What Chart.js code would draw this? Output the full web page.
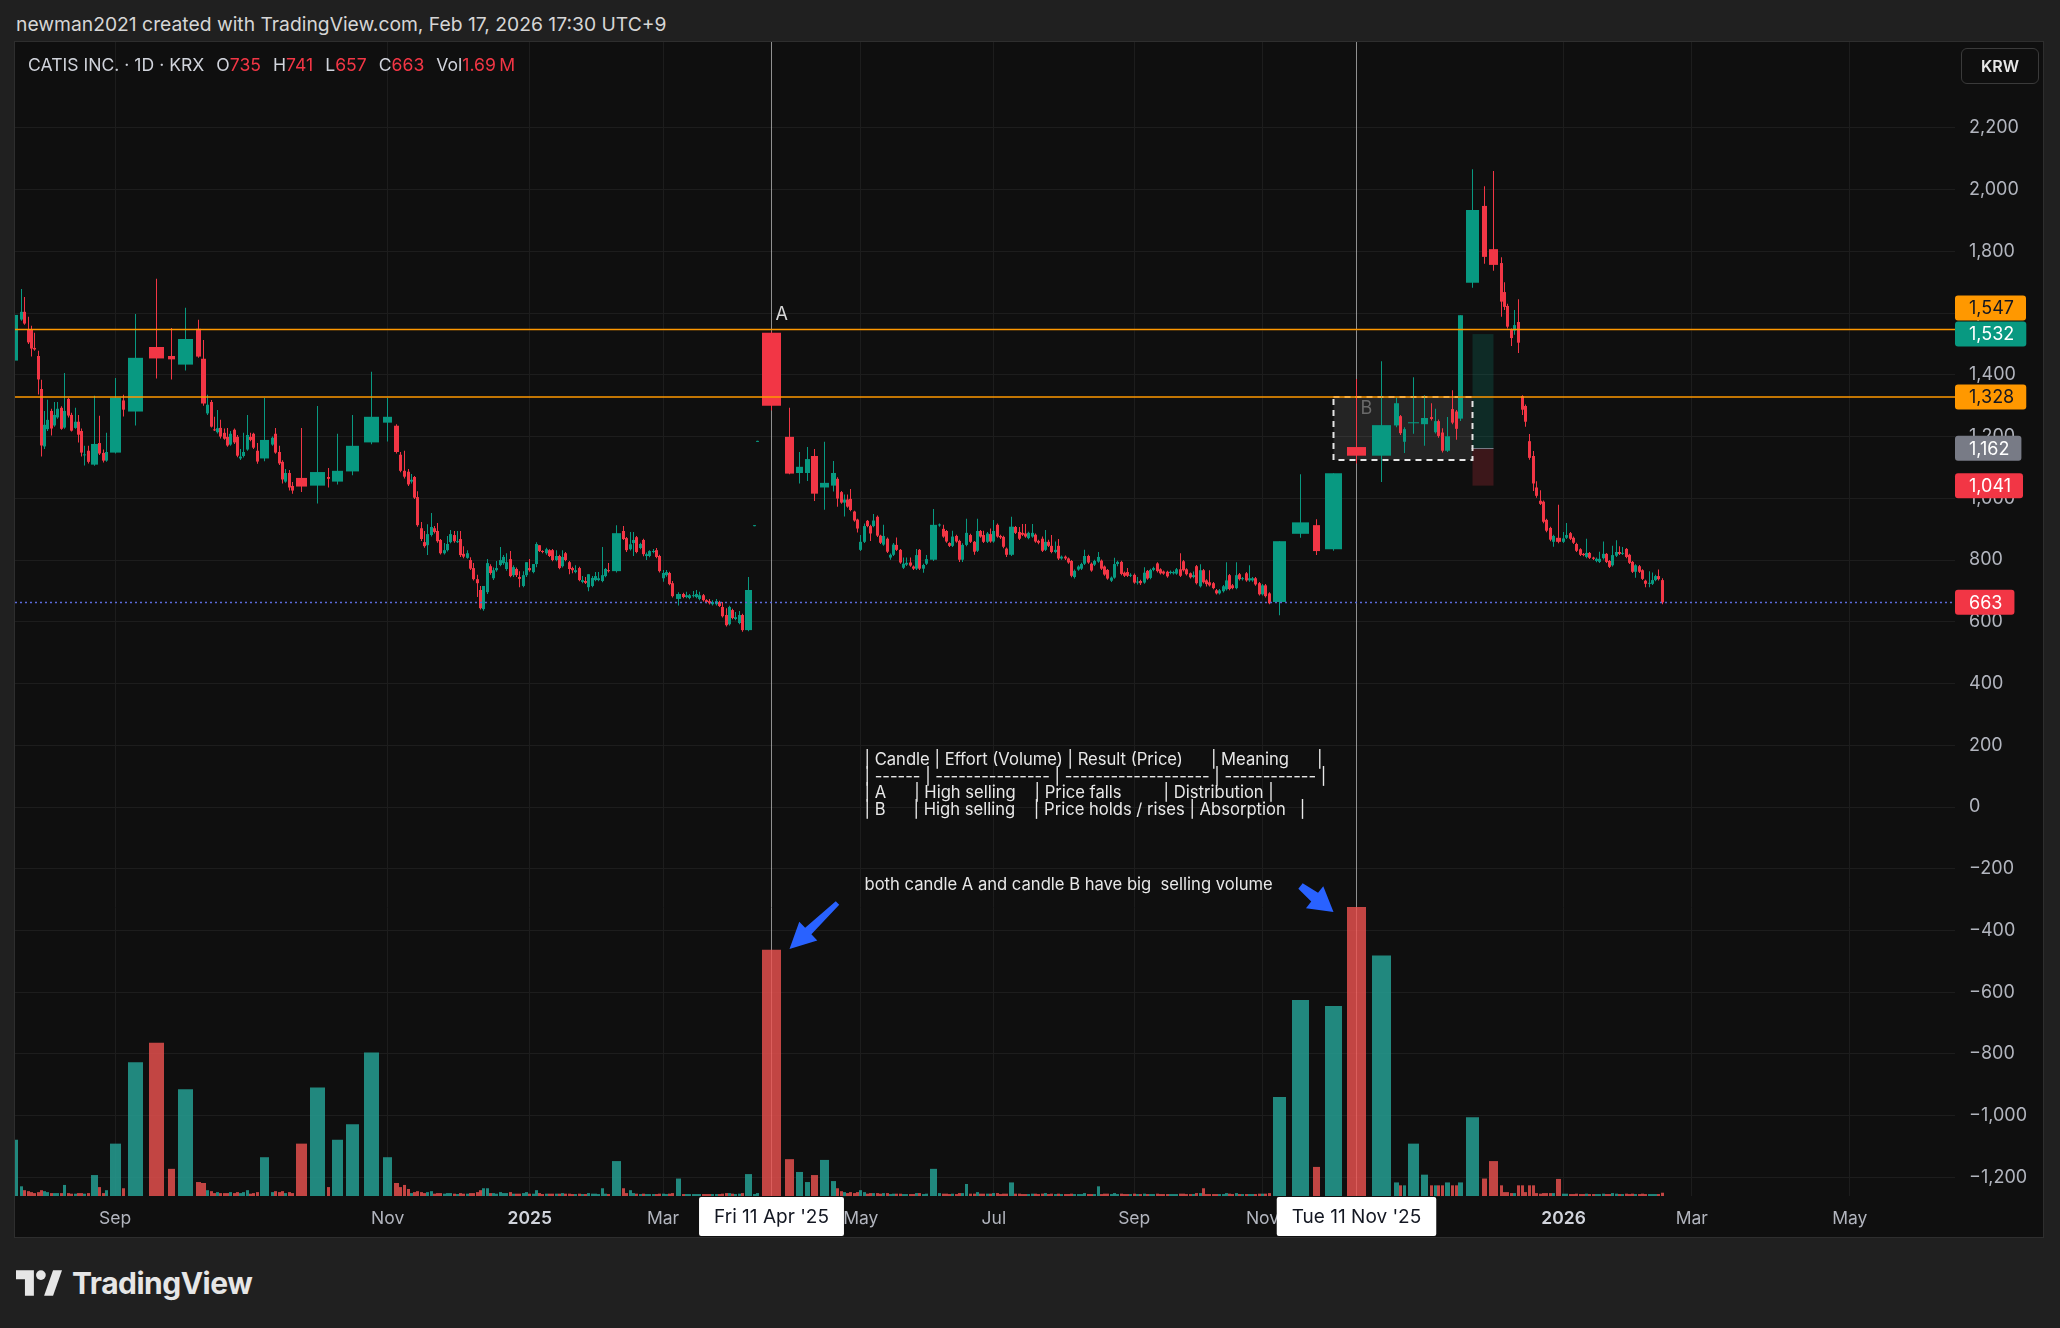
<!DOCTYPE html>
<html lang="en">
<head>
<meta charset="utf-8">
<title>CATIS INC. · 1D · KRX</title>
<script src="https://cdn.jsdelivr.net/npm/chart.js@4.4.1/dist/chart.umd.min.js"></script>
<style>
  html, body { margin: 0; padding: 0; background: #202020; }
  body { width: 2060px; height: 1328px; position: relative; overflow: hidden;
         font-family: Inter, Roboto, "Noto Sans", sans-serif; }
  #header { position: absolute; left: 16px; top: 12px; font-size: 19.3px; color: #d6d6d6; }
  #panel { position: absolute; left: 14px; top: 41px; width: 2028px; height: 1195px;
           border: 1px solid #2e2e2e; background: #0f0f0f; }
  #chart { position: absolute; left: 0; top: 0; }
  #legend { position: absolute; left: 13px; top: 12px; font-size: 17.6px; color: #d1d4dc; white-space: nowrap; }
  #legend span { margin-left: 12px; }
  #legend span:first-child { margin-left: 0; }
  #legend b { font-weight: normal; color: #f23645; }
  #krw { position: absolute; left: 1946px; top: 6px; width: 78px; height: 36px; box-sizing: border-box;
         border: 1px solid #3a3a3a; border-radius: 6px; color: #e8e8e8; font-size: 16px; font-weight: 600;
         line-height: 34px; text-align: center; }
  #logo { position: absolute; left: 16px; top: 1268px; height: 30px; display: flex; align-items: center; gap: 10px;
          color: #e6e6e6; font-size: 30px; font-weight: 700; letter-spacing: -0.5px; }
</style>
</head>
<body>
<div id="header">newman2021 created with TradingView.com, Feb 17, 2026 17:30 UTC+9</div>
<div id="panel">
  <canvas id="chart" width="2028" height="1195"></canvas>
  <div id="legend"></div>
  <div id="krw">KRW</div>
</div>
<div id="logo">
  <svg width="46" height="26" viewBox="0 0 36 20" fill="#e6e6e6">
    <path d="M0 0h14v20H7V7H0z"/><circle cx="19.5" cy="3.8" r="3.8"/><path d="M22 20L29 0h7l-7 20z"/>
  </svg>TradingView
</div>

<script>
// daily candles, KRX:CATIS, oldest first (volume in millions of shares)
const opens = [1446,1579,1604,1548,1548,1487,1461,1354,1168,1224,
  1283,1236,1262,1293,1229,1322,1270,1228,1248,1218,
  1139,1154,1109,1179,1147,1122,1148,1317,1281,1490,
  1461,1433,1549,1452,1275,1312,1222,1214,1228,1212,
  1199,1174,1222,1199,1129,1137,1158,1199,1209,1154,
  1129,1174,1209,1150,1118,1054,1082,1040,1066,1041,
  1069,1054,1087,1181,1245,1235,1141,1089,1086,1054,
  1069,1004,903,858,848,881,903,894,865,822,
  832,858,881,858,868,820,807,800,774,738,
  703,641,696,780,741,767,784,790,771,803,
  751,771,745,716,751,774,761,787,848,829,
  822,832,832,800,813,780,822,793,774,761,
  774,729,732,712,716,735,735,732,748,767,
  764,894,871,835,855,874,839,865,813,813,
  826,832,813,741,751,758,725,674,690,680,
  677,683,680,674,686,670,667,657,657,664,
  648,622,592,638,609,596,622,573,913,1186,
  1536,1199,1082,1082,1137,1035,1041,1063,1020,986,
  996,998,957,931,833,859,927,910,910,940,
  879,850,869,808,817,849,833,775,785,792,
  779,772,833,772,788,801,912,901,894,855,
  846,878,862,801,849,881,859,830,894,881,
  859,884,860,914,878,875,837,817,907,891,
  888,886,871,876,882,862,869,833,859,846,826,
  846,805,811,805,797,745,769,772,788,813,788,
  785,795,798,779,768,733,743,787,794,759,761,749,
  752,727,732,727,765,742,768,789,770,763,
  762,758,757,756,770,796,770,757,745,780,
  715,767,734,728,725,702,692,699,705,751,
  718,709,754,738,757,734,734,741,725,689,
  718,692,664,885,913,835,1166,1138,1236,1266,
  1183,1243,1240,1263,1214,1250,1213,1154,1289,1281,
  1258,1698,1947,1807,1762,1668,1623,1545,1543,1571,
  1331,1299,1185,1137,1035,992,989,930,904,859,
  872,859,872,887,872,852,835,820,810,823,
  808,797,794,806,820,797,783,814,826,820,
  836,817,794,762,780,767,733,723,723,735,748,735];

const highs = [1600,1678,1652,1588,1559,1536,1478,1384,1283,1319,
  1290,1312,1312,1298,1406,1326,1277,1293,1270,1226,
  1170,1170,1332,1267,1158,1212,1390,1335,1597,1711,
  1552,1617,1578,1513,1335,1318,1264,1286,1254,1226,
  1228,1218,1226,1205,1160,1212,1270,1212,1212,1179,
  1325,1200,1228,1170,1123,1095,1092,1053,1228,1299,
  1098,1209,1270,1410,1325,1240,1150,1154,1095,1079,
  1072,1023,923,894,916,952,910,920,868,855,
  878,897,894,894,894,845,832,809,790,752,
  716,716,803,786,776,797,842,816,822,829,
  783,776,764,764,793,803,787,858,848,832,
  840,835,836,832,817,832,826,797,778,783,
  778,748,745,754,748,761,761,842,774,790,
  913,910,875,891,891,878,856,869,824,832,
  836,839,817,768,768,762,732,696,694,697,
  690,700,703,697,690,673,674,670,674,668,
  664,644,652,642,632,635,626,745,913,1186,
  1540,1293,1150,1166,1160,1183,1121,1068,1024,1012,
  1012,1030,960,934,881,918,930,914,949,944,
  882,914,873,821,855,873,836,808,808,808,
  782,836,836,788,816,965,918,914,897,858,
  895,882,866,854,934,885,862,934,897,895,
  891,902,930,918,882,879,841,940,910,907,
  917,917,892,917,886,866,876,897,866,881,860,
  868,815,815,808,800,769,783,791,833,817,792,
  801,826,802,782,771,747,807,798,798,763,774,757,
  756,745,736,777,768,772,778,793,773,766,
  765,766,765,774,822,800,773,760,763,784,
  786,771,738,767,729,706,706,719,793,755,
  722,793,758,745,761,783,745,745,729,722,
  722,696,861,1078,932,1081,1386,1444,1326,1270,
  1230,1392,1334,1308,1290,1255,1227,1263,1350,1286,
  1593,2066,2011,2060,1781,1700,1630,1550,1610,1645,
  1334,1304,1208,1153,1055,1026,993,934,908,882,
  979,891,920,891,876,856,838,823,869,826,
  811,808,827,860,823,800,846,864,845,842,
  839,820,797,786,784,770,736,764,760,752,769,741];

const lows = [1440,1575,1562,1500,1459,1478,1336,1135,1160,1218,
  1203,1232,1258,1222,1225,1262,1216,1225,1181,1135,
  1106,1113,1105,1140,1116,1118,1145,1265,1236,1388,
  1385,1414,1455,1300,1270,1229,1218,1210,1194,1190,
  1167,1170,1176,1133,1124,1132,1154,1185,1160,1112,
  1120,1170,1144,1108,1048,1050,1025,1015,1020,983,
  1035,1045,1075,1175,1184,1145,1084,1064,1040,1048,
  998,908,862,840,816,876,886,856,818,818,
  828,854,856,855,810,806,804,768,734,680,
  640,636,690,752,735,762,780,785,765,744,
  745,745,712,712,745,762,757,777,826,822,
  817,810,796,796,770,776,796,754,757,757,
  731,725,722,699,712,731,731,728,744,760,
  760,865,826,831,813,822,835,812,800,809,
  822,806,760,730,746,718,679,653,676,676,
  673,679,676,670,666,660,656,653,653,648,
  614,585,588,608,605,592,568,569,913,1186,
  1284,1078,1048,1056,991,963,1022,973,982,941,
  969,958,924,889,829,855,906,862,906,875,
  852,846,823,801,813,829,788,771,781,778,
  768,768,768,759,784,797,908,872,856,842,
  842,856,794,794,845,855,817,826,872,855,
  855,856,856,872,868,838,810,813,884,865,
  878,872,867,872,856,851,826,829,842,822,822,
  800,801,800,788,744,740,765,768,784,788,762,
  781,791,768,749,736,729,739,780,751,745,745,745,
  723,721,719,723,736,738,764,760,753,752,
  743,754,753,752,745,763,750,740,741,721,
  711,724,714,714,705,688,688,695,701,702,
  705,705,734,734,730,730,730,717,685,685,
  679,657,621,872,816,830,1113,1053,1230,1205,
  1147,1209,1170,1252,1210,1196,1148,1150,1240,1190,
  1250,1682,1760,1737,1588,1610,1550,1493,1530,1471,
  1270,1232,1125,1024,1002,978,919,890,861,843,
  854,855,868,865,852,826,813,812,806,803,
  800,793,790,802,790,774,779,810,816,816,
  806,787,758,743,758,735,712,712,719,731,734,657];

const closes = [1594,1604,1566,1505,1485,1482,1385,1171,1238,1254,
  1226,1270,1290,1225,1283,1268,1219,1248,1206,1148,
  1142,1118,1176,1145,1122,1150,1326,1287,1455,1453,
  1450,1516,1459,1307,1303,1232,1220,1227,1200,1193,
  1171,1209,1181,1138,1135,1150,1205,1189,1164,1119,
  1189,1196,1148,1113,1061,1082,1035,1025,1038,1085,
  1063,1089,1170,1264,1264,1150,1089,1070,1045,1060,
  1002,913,868,845,884,907,891,861,822,832,
  852,884,861,861,816,811,822,772,738,725,
  644,716,790,758,767,774,800,810,793,748,
  777,751,739,751,793,767,787,852,829,826,
  835,813,800,813,774,810,800,771,767,767,
  735,735,726,754,742,748,741,751,771,764,
  887,868,832,851,865,826,852,819,819,829,
  829,810,764,758,761,722,683,690,680,686,
  686,686,690,686,670,664,660,664,667,651,
  618,589,648,612,615,622,573,703,913,1186,
  1300,1080,1102,1127,1015,1050,1082,999,986,996,
  973,962,928,902,859,910,910,886,928,879,
  856,878,827,817,850,833,792,788,791,782,
  772,816,772,784,803,914,914,876,860,846,
  876,860,801,849,888,859,827,894,876,859,
  886,860,894,876,873,843,817,908,888,869,
  882,876,888,888,860,856,830,859,846,826,833,
  805,811,805,792,749,765,779,787,813,792,766,
  797,810,772,753,740,743,787,794,755,749,749,752,
  727,730,725,759,740,768,774,764,757,756,
  747,762,761,770,749,767,754,744,751,725,
  767,728,722,718,709,692,702,715,734,706,
  709,751,738,741,734,741,741,721,689,718,
  683,660,861,922,829,1081,1138,1237,1308,1211,
  1224,1244,1260,1257,1250,1202,1154,1201,1245,1225,
  1593,1934,1782,1756,1637,1620,1556,1519,1561,1504,
  1287,1248,1131,1048,1008,982,924,895,866,878,
  859,870,881,869,856,830,817,816,823,807,
  804,804,804,820,794,778,816,826,820,823,
  810,791,762,783,762,739,723,726,735,748,738,663];

const volumes = [29,5,3,2.5,2,1.5,2,3,2.5,2,
  1.5,1.5,1.5,1.5,5.7,1.5,1.2,1.2,1.5,1.5,
  1.2,1.5,10.8,4.6,1.5,3,27,4,69,79,
  14,55,7.2,6.7,3,2.5,1.5,2,1.5,1.5,
  1.5,2,1.5,2,1.5,2,3,1.2,1.5,2,
  20,2,2.5,2,2.5,1.5,2,1.5,27,56,
  4.6,29,37,74,20,6.7,4.6,5.7,3.6,1.5,
  2,2.5,2,1.5,2,2.5,1.2,1.5,1.5,1.2,
  1.5,1.5,1.2,1,1.5,1.2,1.2,1.5,1.5,2,
  3,4,4,1.5,1.5,1.2,2,1.5,1.5,2,
  1.2,1.2,1.2,1.5,2,1.2,1.2,3,1.5,1,
  1.2,1.2,1.2,1.2,1.2,1.5,1.2,1.2,1,1,
  1.2,1,1,1.5,1.2,1.2,1,4,1.2,1,
  18,4,1.5,3,1.5,1.2,1,1.2,1,1,
  1,1,1.2,1.2,1,1.2,1.5,9,1,1,
  1,1,1,1,1,1,1,1,1,1,
  1.2,1.5,1.5,1.2,1,1.2,1.5,11.3,1,1.5,
  127,19,12.4,7.2,10.8,18.6,7.7,4,2.5,2,
  1.5,2,1.5,2,3,2,1.2,1.5,1.5,1.5,
  1.2,1.5,1.5,1,1.2,1.2,1.2,1,1,1,
  1,1.5,1.5,1,1.2,14,1.5,1.2,1.2,1,
  1.2,1,1.5,1.5,6.2,1.2,1.2,2,1.2,1.2,
  1.2,1.2,1.5,1.5,1,1.2,1.2,7,1.2,1.2,
  1,1,1,1.2,1.2,1,1.2,1.5,1,1.2,1,
  1.2,1,1,1,1.2,1,1,1,1.5,1,1,
  1,5,1,1.2,1.2,1,1.5,1,1.2,1,1,1,
  1.2,1,1,1.2,1,1,1,1.2,1,1,
  1,1,1,1,1.2,1.2,1,1,1,1.5,
  1.5,4,1,1,1,1,1,1,1.5,1.2,
  1,1.5,1,1,1,1,1,1,1.2,1.2,
  1.2,1.5,51,101,15,98,149,124,7,5.5,
  5.5,27,11,5.5,5.5,5.5,5.5,7,5.5,5.5,
  7,40.6,9,18,5.5,2,2,1.5,1.5,5.5,
  5.5,2,5.5,5.5,1.5,1.2,1.5,1.5,1.5,1.5,
  8.8,1.2,1.2,1,1,1.2,1,1,1.2,1,
  1,1,1,1.2,1,1,1.5,1.2,1,1,
  1.2,1,1.2,1,1,1.2,1,1,1,1,1,1.69];

// time axis: first session of each labelled month, and months past the last bar
const monthNames = ['Sep', 'Nov', '2025', 'Mar', 'May', 'Jul', 'Sep', 'Nov', '2026'];
const monthStart = [26, 64, 105, 143, 184, 222, 264, 303, 345];
const futureNames = ['Mar', 'May'];
const futureBars = [9, 57];

// price axis
const priceTicks = [-1200, -1000, -800, -600, -400, -200, 0, 200, 400, 600, 800, 1000, 1200,
  1400, 1600, 1800, 2000, 2200];

// drawings on the chart
const levelLines = [1547, 1328];
const tagValues = [1547, 1532, 1328, 1162, 1041, 663];
const markedBars = [170, 310];
const markedDates = ["Fri 11 Apr '25", "Tue 11 Nov '25"];
const position = { from: 325, to: 327, target: 1532, entry: 1162, stop: 1041 };
const boxB = { from: 309, to: 325, top: 1328, bottom: 1124 };
const candleLabels = [['A', 170, 1594], ['B', 310, 1292]];
const noteLines = [
  '| Candle | Effort (Volume) | Result (Price)      | Meaning      |',
  '| ------ | --------------- | ------------------- | ------------ |',
  '| A      | High selling    | Price falls         | Distribution |',
  '| B      | High selling    | Price holds / rises | Absorption   |'
];
const noteBar = 185, notePrice = 152;
const note2 = 'both candle A and candle B have big  selling volume', note2Price = -253;
const arrows = [[177, -311, 171, -460], [307, -256, 309, -340]];

const up = '#089981', down = '#f23645';
const tagFill = ['#ff9800', up, '#ff9800', '#787b86', down, down];
const tagInk = ['#131722', '#ffffff', '#131722', '#ffffff', '#ffffff', '#ffffff'];
const gridColor = '#1d1d1d';
const last = closes.length - 1;

// legend
document.getElementById('legend').innerHTML =
  '<span>CATIS INC. · 1D · KRX</span>' +
  `<span>O<b>${opens[last]}</b></span><span>H<b>${highs[last]}</b></span>` +
  `<span>L<b>${lows[last]}</b></span><span>C<b>${closes[last]}</b></span>` +
  `<span>Vol<b>${volumes[last].toFixed(2)}&thinsp;M</b></span>`;

// volume candles: width grows with volume, so x is a running sum of bar slots
function bodyWidth(v) { return Math.max(2.7, 4.8 * Math.log(v) - 5); }
function slotWidth(v) { const b = bodyWidth(v); return b + 0.6 + 0.34 * (b - 2.7); }
function oddPx(w) { return Math.max(1, 2 * Math.round((w - 1) / 2) + 1); }

const centers = [];
volumes.map(slotWidth).reduce((run, s) => { centers.push(run + s / 2); return run + s; }, 0);
const slot = slotWidth(1);
const xMin = centers[1] - 2 * slot;
const xMax = centers[last] + 89 * slot;
const tickValues = monthStart.map(i => centers[i]).concat(futureBars.map(n => centers[last] + n * slot));
const tickNames = monthNames.concat(futureNames);
const isYear = i => /^\d{4}$/.test(tickNames[i] || '');

const fmt = v => (v < 0 ? '\u2212' : '') + Math.abs(v).toLocaleString('en-US');
const isUp = i => closes[i] >= opens[i];

function hline(ctx, x0, x1, y) {
  ctx.beginPath(); ctx.moveTo(x0, y); ctx.lineTo(x1, y); ctx.stroke();
}

function drawArrow(ctx, x0, y0, x1, y1, headLen, headW, neckW, tailW) {
  const len = Math.hypot(x1 - x0, y1 - y0);
  const ux = (x1 - x0) / len, uy = (y1 - y0) / len, nx = -uy, ny = ux;
  const bx = x1 - ux * headLen, by = y1 - uy * headLen;
  ctx.beginPath();
  ctx.moveTo(x0 + nx * tailW / 2, y0 + ny * tailW / 2);
  ctx.lineTo(bx + nx * neckW / 2, by + ny * neckW / 2);
  ctx.lineTo(bx + nx * headW / 2, by + ny * headW / 2);
  ctx.lineTo(x1, y1);
  ctx.lineTo(bx - nx * headW / 2, by - ny * headW / 2);
  ctx.lineTo(bx - nx * neckW / 2, by - ny * neckW / 2);
  ctx.lineTo(x0 - nx * tailW / 2, y0 - ny * tailW / 2);
  ctx.closePath();
  ctx.fill();
}

// bars get their own width from volume after chart.js has placed them
const candleWidths = {
  id: 'candleWidths',
  afterDatasetsUpdate(chart) {
    const xs = chart.scales.x;
    const unit = xs.getPixelForValue(1) - xs.getPixelForValue(0);
    chart.data.datasets.forEach((ds, d) => {
      chart.getDatasetMeta(d).data.forEach((bar, i) => {
        bar.x = Math.floor(bar.x) + 0.5;
        bar.width = d === 1 ? 1 : oddPx(bodyWidth(volumes[i]) * unit);
      });
    });
  }
};

const drawings = {
  id: 'drawings',
  beforeDatasetsDraw(chart) {
    const { ctx, chartArea: area, scales: { x, y } } = chart;
    const bx = i => Math.floor(x.getPixelForValue(centers[i])) + 0.5;
    ctx.save();
    // long position tool
    const pl = bx(position.from), pr = bx(position.to);
    const yT = y.getPixelForValue(position.target), yE = y.getPixelForValue(position.entry);
    const yS = y.getPixelForValue(position.stop);
    ctx.fillStyle = 'rgba(8,153,129,0.2)';
    ctx.fillRect(pl, yT, pr - pl, yE - yT);
    ctx.fillStyle = 'rgba(242,54,69,0.2)';
    ctx.fillRect(pl, yE, pr - pl, yS - yE);
    ctx.strokeStyle = '#787b86';
    ctx.lineWidth = 1;
    hline(ctx, pl - 1, pr, Math.round(yE) + 0.5);
    // box round candle B
    const bl = bx(boxB.from), br = bx(boxB.to);
    const bt = y.getPixelForValue(boxB.top), bb = y.getPixelForValue(boxB.bottom);
    ctx.fillStyle = 'rgba(255,255,255,0.09)';
    ctx.fillRect(bl, bt, br - bl, bb - bt);
    ctx.setLineDash([6, 5]);
    ctx.strokeStyle = '#e6e6e6';
    ctx.lineWidth = 2;
    ctx.strokeRect(bl, bt, br - bl, bb - bt);
    ctx.setLineDash([]);
    // vertical date lines
    ctx.strokeStyle = 'rgba(200,200,200,0.7)';
    ctx.lineWidth = 1;
    markedBars.forEach(i => {
      ctx.beginPath(); ctx.moveTo(bx(i), area.top); ctx.lineTo(bx(i), area.bottom); ctx.stroke();
    });
    ctx.restore();
  },
  afterDatasetsDraw(chart) {
    const { ctx, chartArea: area, scales: { x, y } } = chart;
    const bx = i => Math.floor(x.getPixelForValue(centers[i])) + 0.5;
    ctx.save();
    ctx.strokeStyle = '#ff9800';
    ctx.lineWidth = 1.5;
    levelLines.forEach(v => hline(ctx, area.left, area.right, y.getPixelForValue(v)));
    ctx.setLineDash([2, 3]);
    ctx.strokeStyle = '#5c6bdc';
    hline(ctx, area.left, area.right, Math.round(y.getPixelForValue(closes[last])) + 0.5);
    ctx.setLineDash([]);

    ctx.textBaseline = 'middle';
    ctx.textAlign = 'left';
    ctx.font = '18px Inter';
    candleLabels.forEach(([t, i, p], k) => {
      ctx.fillStyle = k === 0 ? '#d9d9d9' : '#6a6a6a';
      ctx.fillText(t, bx(i) + 4, y.getPixelForValue(p));
    });

    ctx.font = '16.6px Inter';
    ctx.fillStyle = '#e8e8e8';
    const nx = bx(noteBar), ny = y.getPixelForValue(notePrice);
    noteLines.forEach((t, k) => ctx.fillText(t, nx, ny + k * 16.7));
    ctx.fillText(note2, nx, y.getPixelForValue(note2Price));

    ctx.fillStyle = '#2962ff';
    arrows.forEach(([i0, p0, i1, p1], k) => {
      const big = k === 0;
      drawArrow(ctx, bx(i0), y.getPixelForValue(p0), bx(i1), y.getPixelForValue(p1),
        big ? 26 : 24, big ? 26 : 28, big ? 9 : 11, big ? 5 : 7);
    });
    ctx.restore();
  },
  afterDraw(chart) {
    const { ctx, chartArea: area, scales: { x, y } } = chart;
    const bx = i => Math.floor(x.getPixelForValue(centers[i])) + 0.5;
    ctx.save();
    ctx.font = '18px Inter';
    ctx.textBaseline = 'middle';
    // price tags on the axis, pushed up when they overlap
    const tags = tagValues.map((v, k) => ({ v, k, py: y.getPixelForValue(v) })).sort((a, b) => b.py - a.py);
    let floor = Infinity;
    tags.forEach(t => {
      const cy = Math.min(t.py, floor - 26);
      floor = cy;
      const label = fmt(t.v), w = ctx.measureText(label).width + 26;
      ctx.fillStyle = tagFill[t.k];
      ctx.beginPath(); ctx.roundRect(area.right, cy - 12.5, w, 25, 3); ctx.fill();
      ctx.fillStyle = tagInk[t.k];
      ctx.textAlign = 'left';
      ctx.fillText(label, area.right + 14, cy + 1);
    });
    // date tags under the marked candles
    ctx.font = '19px Inter';
    markedBars.forEach((i, k) => {
      const cx = bx(i), w = ctx.measureText(markedDates[k]).width + 30;
      ctx.fillStyle = '#ffffff';
      ctx.beginPath(); ctx.roundRect(cx - w / 2, area.bottom + 1, w, 39, 2); ctx.fill();
      ctx.fillStyle = '#131722';
      ctx.textAlign = 'center';
      ctx.fillText(markedDates[k], cx, area.bottom + 21);
    });
    ctx.restore();
  }
};

Chart.defaults.font.family = 'Inter, Roboto, "Noto Sans", sans-serif';
Chart.defaults.font.size = 17;

new Chart(document.getElementById('chart'), {
  type: 'bar',
  data: {
    datasets: [
      { label: 'Volume', yAxisID: 'vol', order: 3,
        data: volumes.map((v, i) => ({ x: centers[i], y: v })),
        backgroundColor: c => isUp(c.dataIndex) ? 'rgba(38,166,154,0.8)' : 'rgba(239,83,80,0.8)' },
      { label: 'Range', yAxisID: 'y', order: 2, minBarLength: 1,
        data: lows.map((l, i) => ({ x: centers[i], y: [l, highs[i]] })),
        backgroundColor: c => isUp(c.dataIndex) ? up : down },
      { label: 'Body', yAxisID: 'y', order: 1, minBarLength: 1,
        data: opens.map((o, i) => ({ x: centers[i], y: [o, closes[i]] })),
        backgroundColor: c => isUp(c.dataIndex) ? up : down }
    ]
  },
  options: {
    responsive: false,
    animation: false,
    devicePixelRatio: 1,
    events: [],
    layout: { padding: 0, autoPadding: false },
    datasets: { bar: { grouped: false, borderWidth: 0, inflateAmount: 0, clip: 0 } },
    plugins: { legend: { display: false }, tooltip: { enabled: false } },
    scales: {
      x: {
        type: 'linear', min: xMin, max: xMax, offset: false,
        grid: { color: gridColor, drawTicks: false, offset: false },
        border: { display: false },
        afterBuildTicks: s => { s.ticks = tickValues.map(v => ({ value: v })); },
        afterFit: s => { s.height = 41; s.paddingLeft = 0; s.paddingRight = 0; },
        ticks: {
          autoSkip: false, maxRotation: 0, padding: 12,
          color: c => isYear(c.index) ? '#d1d4dc' : '#b2b5be',
          font: c => ({ size: 17.5, weight: isYear(c.index) ? '600' : '400' }),
          callback: (v, i) => tickNames[i]
        }
      },
      y: {
        position: 'right', min: -1260, max: 2478,
        grid: { color: gridColor, drawTicks: false },
        border: { display: false },
        afterBuildTicks: s => { s.ticks = priceTicks.map(v => ({ value: v })); },
        afterFit: s => { s.width = 88; s.paddingTop = 0; s.paddingBottom = 0; },
        ticks: { padding: 14, color: '#b2b5be', font: { size: 18 }, callback: v => fmt(v) }
      },
      vol: { display: false, min: 0, max: 595 }
    }
  },
  plugins: [candleWidths, drawings]
});
</script>
</body>
</html>
